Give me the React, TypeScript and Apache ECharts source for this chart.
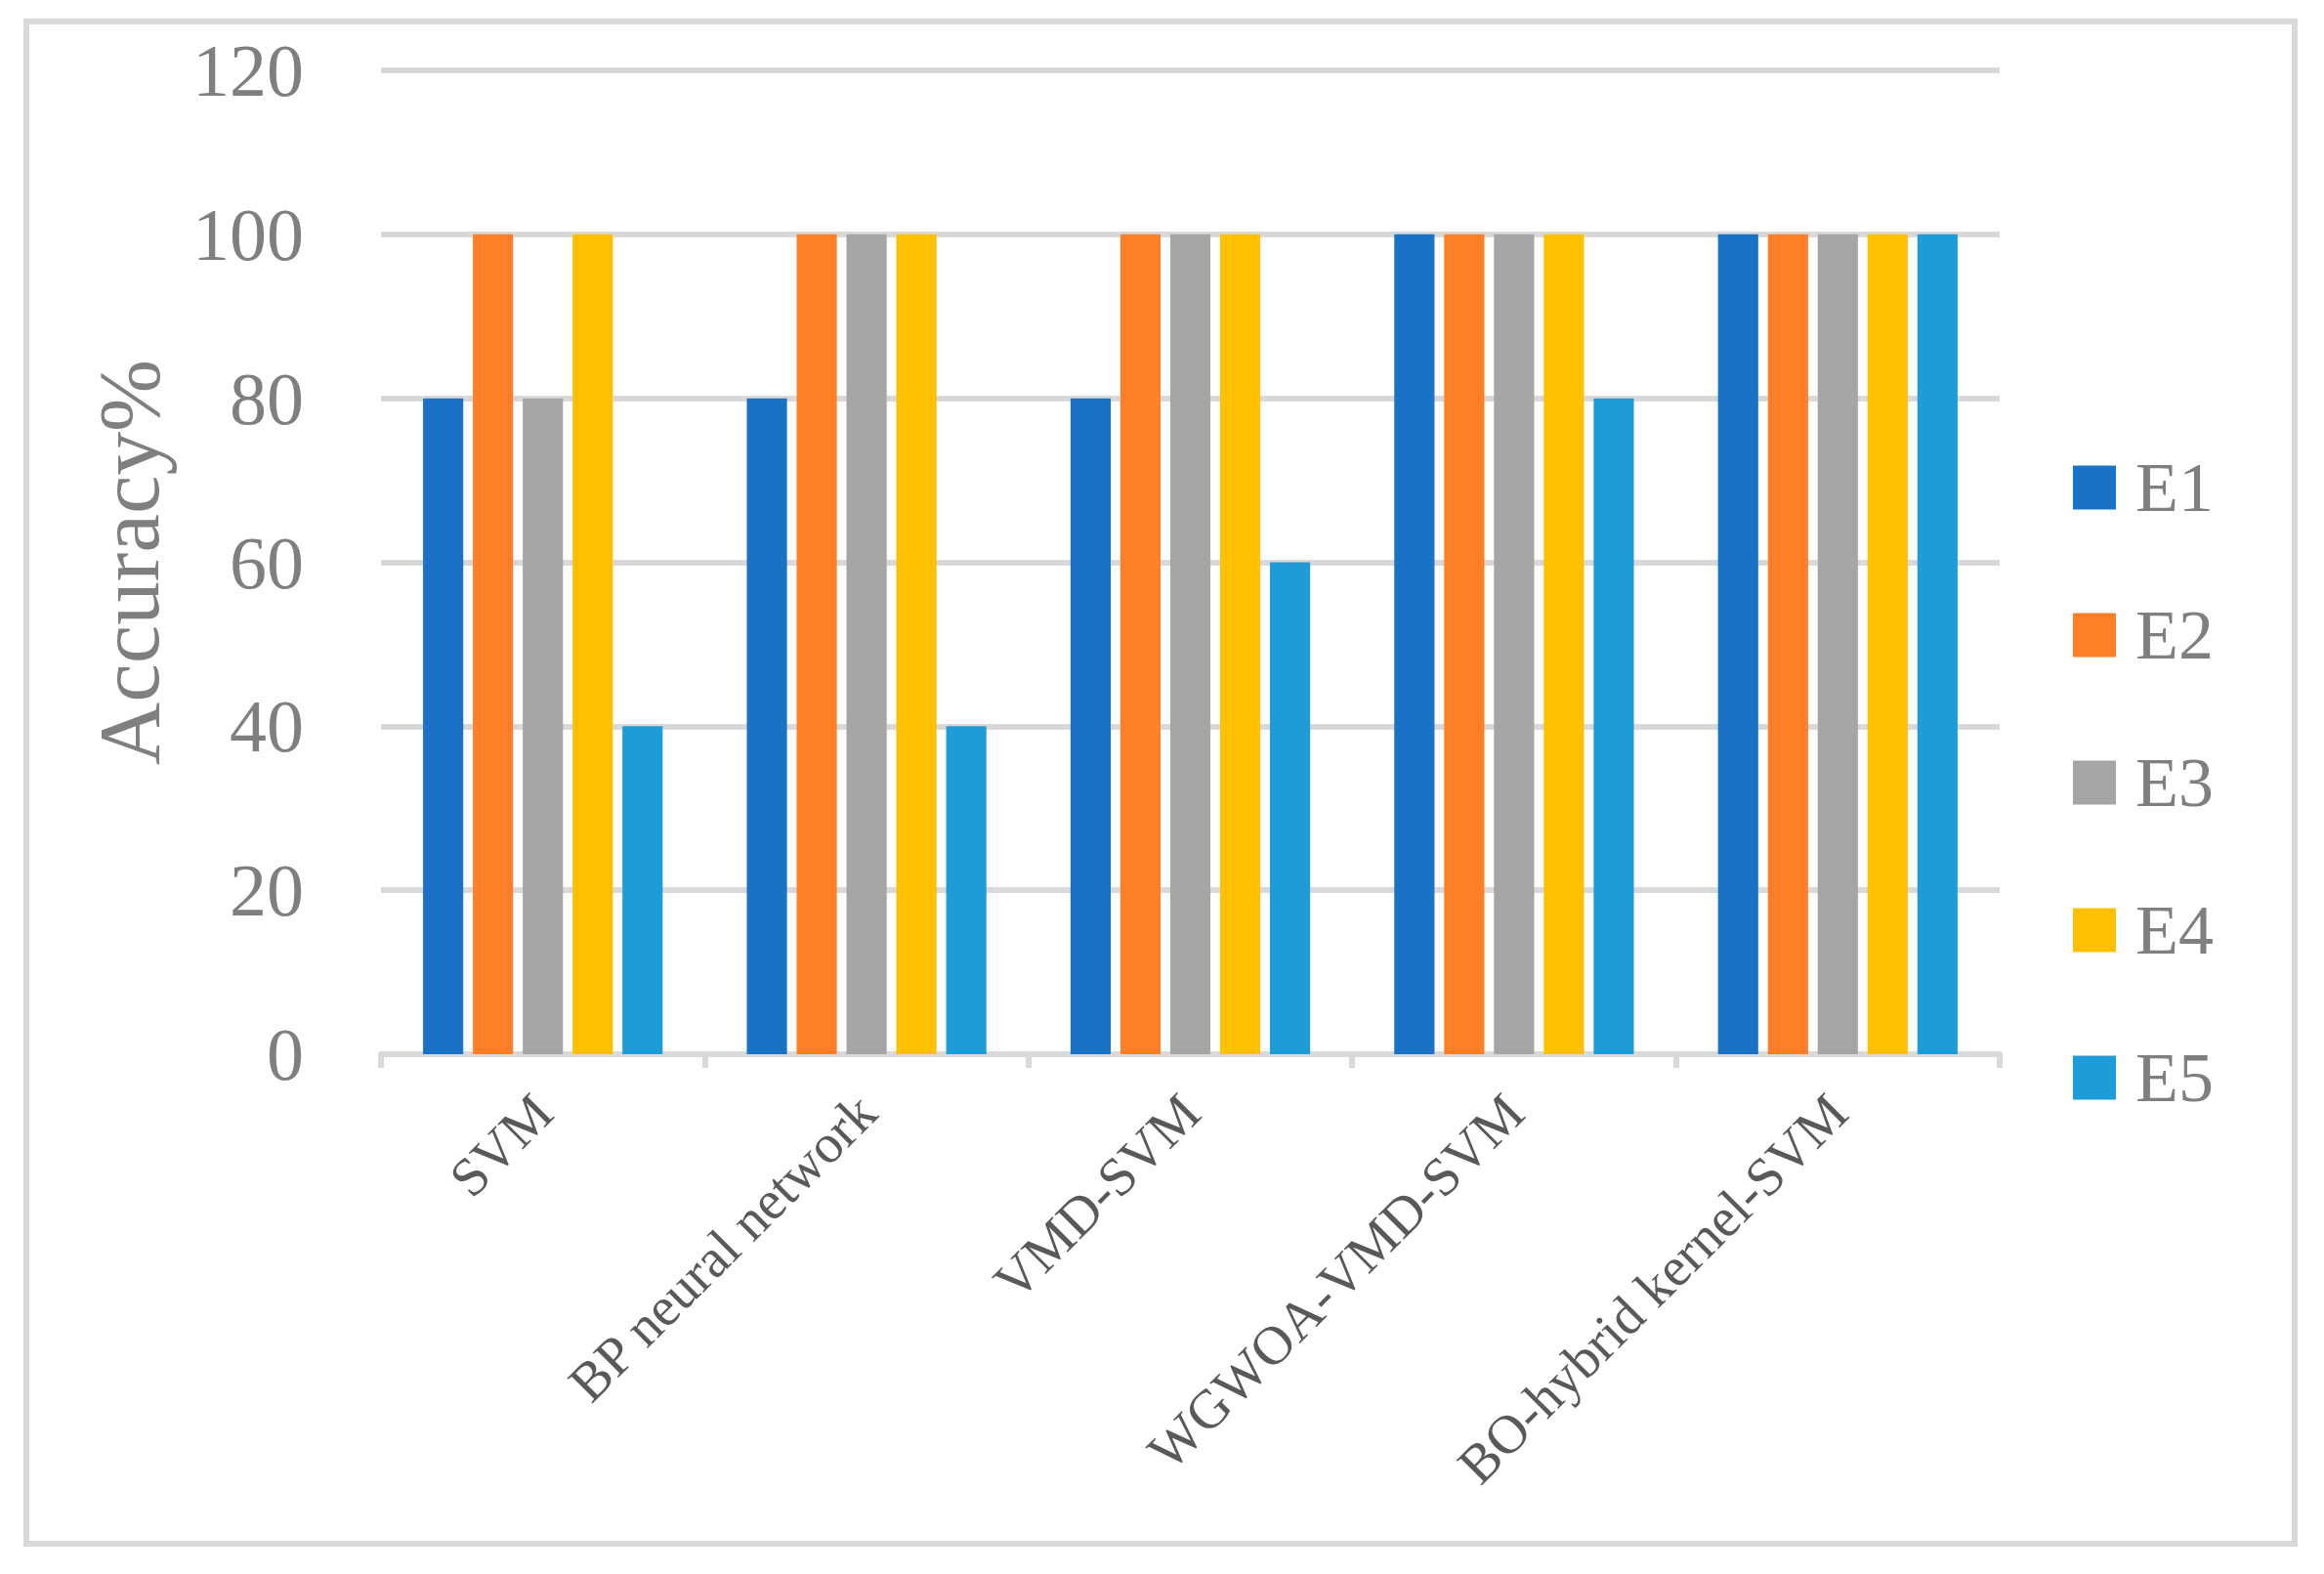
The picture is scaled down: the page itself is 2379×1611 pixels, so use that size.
import React, { useEffect, useRef } from "react";
import * as echarts from "echarts";

const categories = ["SVM", "BP neural network", "VMD-SVM", "WGWOA-VMD-SVM", "BO-hybrid kernel-SVM"];
const seriesNames = ["E1", "E2", "E3", "E4", "E5"];
const e1 = [80, 80, 80, 100, 100];
const e2 = [100, 100, 100, 100, 100];
const e3 = [80, 100, 100, 100, 100];
const e4 = [100, 100, 100, 100, 100];
const e5 = [40, 40, 60, 80, 100];
const seriesValues = [e1, e2, e3, e4, e5];
const colors = ["#1a72c6", "#fe7f27", "#a5a5a5", "#fec000", "#1d9cd8"];
const yTicks = [0, 20, 40, 60, 80, 100, 120];

export default function App() {
  const ref = useRef<HTMLDivElement>(null);
  useEffect(() => {
    if (!ref.current) return;
    const chart = echarts.init(ref.current, null, { renderer: "svg" });
    const serif = "'Liberation Serif', 'Times New Roman', serif";
    chart.setOption({
      animation: false,
      backgroundColor: "#ffffff",
      graphic: [
        {
          type: "rect",
          shape: { x: 27, y: 22, width: 2322, height: 1558 },
          style: { fill: "none", stroke: "#d9d9d9", lineWidth: 6 },
          silent: true,
        },
      ],
      grid: { left: 390, right: 332, top: 72, bottom: 532, containLabel: false },
      legend: {
        orient: "vertical",
        left: 2117,
        top: 458,
        itemWidth: 44,
        itemHeight: 45,
        itemGap: 79,
        icon: "rect",
        data: seriesNames,
        textStyle: { color: "#7f7f7f", fontSize: 72, fontFamily: serif, padding: [0, 0, 0, 15] },
      },
      xAxis: {
        type: "category",
        data: categories,
        boundaryGap: true,
        axisLine: { show: true, lineStyle: { color: "#d9d9d9", width: 6 } },
        axisTick: { show: true, alignWithLabel: false, length: 14, lineStyle: { color: "#d9d9d9", width: 6 } },
        axisLabel: {
          rotate: 45,
          margin: 50,
          interval: 0,
          color: "#595959",
          fontSize: 56,
          fontFamily: serif,
        },
      },
      yAxis: {
        type: "value",
        min: 0,
        max: 120,
        interval: 20,
        name: "Accuracy%",
        nameLocation: "middle",
        nameGap: 214,
        nameTextStyle: { color: "#7f7f7f", fontSize: 89, fontFamily: serif },
        axisLine: { show: false },
        axisTick: { show: false },
        splitLine: { show: true, lineStyle: { color: "#d9d9d9", width: 6 } },
        axisLabel: {
          color: "#7f7f7f",
          fontSize: 76,
          fontFamily: serif,
          margin: 79,
          formatter: (v: number) => (yTicks.includes(v) ? String(v) : ""),
        },
      },
      series: seriesNames.map((name, i) => ({
        name,
        type: "bar",
        data: seriesValues[i],
        barGap: "24%",
        barCategoryGap: "26%",
        itemStyle: { color: colors[i] },
      })),
    });
    return () => chart.dispose();
  }, []);
  return (
    <div
      ref={ref}
      style={{ position: "fixed", left: 0, top: 0, width: 2379, height: 1611, background: "#fff" }}
    />
  );
}
